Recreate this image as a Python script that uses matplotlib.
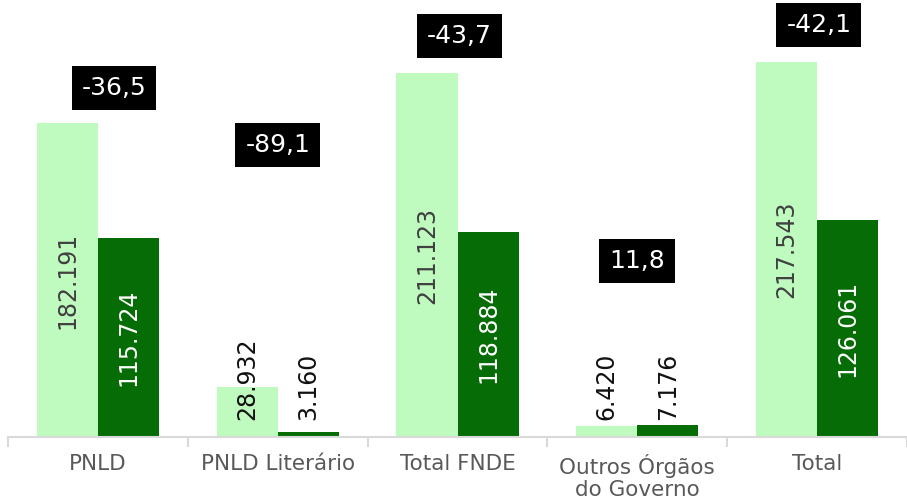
import matplotlib
matplotlib.use("Agg")
import matplotlib.pyplot as plt
import numpy as np

categories = ["PNLD", "PNLD Literário", "Total FNDE", "Outros Órgãos\ndo Governo", "Total"]
series_a = [182191, 28932, 211123, 6420, 217543]
series_b = [115724, 3160, 118884, 7176, 126061]
changes = ["-36,5", "-89,1", "-43,7", "11,8", "-42,1"]

# label box positions (layout only)
box_y = [202400, 169400, 232600, 102100, 239000]
box_dx = [0.09, 0.0, 0.01, 0.0, 0.01]

def fmt(v):
    return f"{v:,}".replace(",", ".")

plt.rcParams['font.family'] = ['DejaVu Sans']
W, H = 907, 499
fig = plt.figure(figsize=(W/100, H/100), dpi=100)
ax = fig.add_axes([8/W, (H-437)/H, (907-8)/W, 437/H])

light = "#BFFBBF"
dark = "#066C06"
x = np.arange(len(categories))
bw = 0.34
ax.bar(x - bw/2, series_a, width=bw, color=light, zorder=2)
ax.bar(x + bw/2, series_b, width=bw, color=dark, zorder=2)

ax.set_xlim(-0.5, len(categories) - 0.5)
ax.set_ylim(0, 253500)

thr = 50000
base_off = 9800
for xi, va_, vb_ in zip(x, series_a, series_b):
    for xx, v, col_in in ((xi - bw/2, va_, "#404040"), (xi + bw/2, vb_, "white")):
        if v > thr:
            ax.text(xx, v/2, fmt(v), rotation=90, ha="center", va="center",
                    fontsize=17, color=col_in, zorder=3)
        else:
            ax.text(xx, base_off, fmt(v), rotation=90, ha="center", va="bottom",
                    fontsize=17, color="#111111", zorder=3)

for xi, c, yy, dx in zip(x, changes, box_y, box_dx):
    ax.text(xi + dx, yy, c, ha="center", va="center", fontsize=18, color="white",
            bbox=dict(boxstyle="square,pad=0.4", fc="black", ec="none"), zorder=4)

for s in ["top", "right", "left"]:
    ax.spines[s].set_visible(False)
ax.spines["bottom"].set_color("#d9d9d9")
ax.spines["bottom"].set_linewidth(1.5)
ax.set_yticks([])
ax.set_xticks(x)
ax.set_xticklabels(categories, fontsize=15.5, color="#595959", linespacing=1.15)
ax.tick_params(axis="x", which="major", length=0, pad=12)
ax.set_xticks(np.arange(-0.5, len(categories)), minor=True)
ax.tick_params(axis="x", which="minor", length=7, width=1.5, color="#d9d9d9")

fig.savefig("out.png", dpi=100)
